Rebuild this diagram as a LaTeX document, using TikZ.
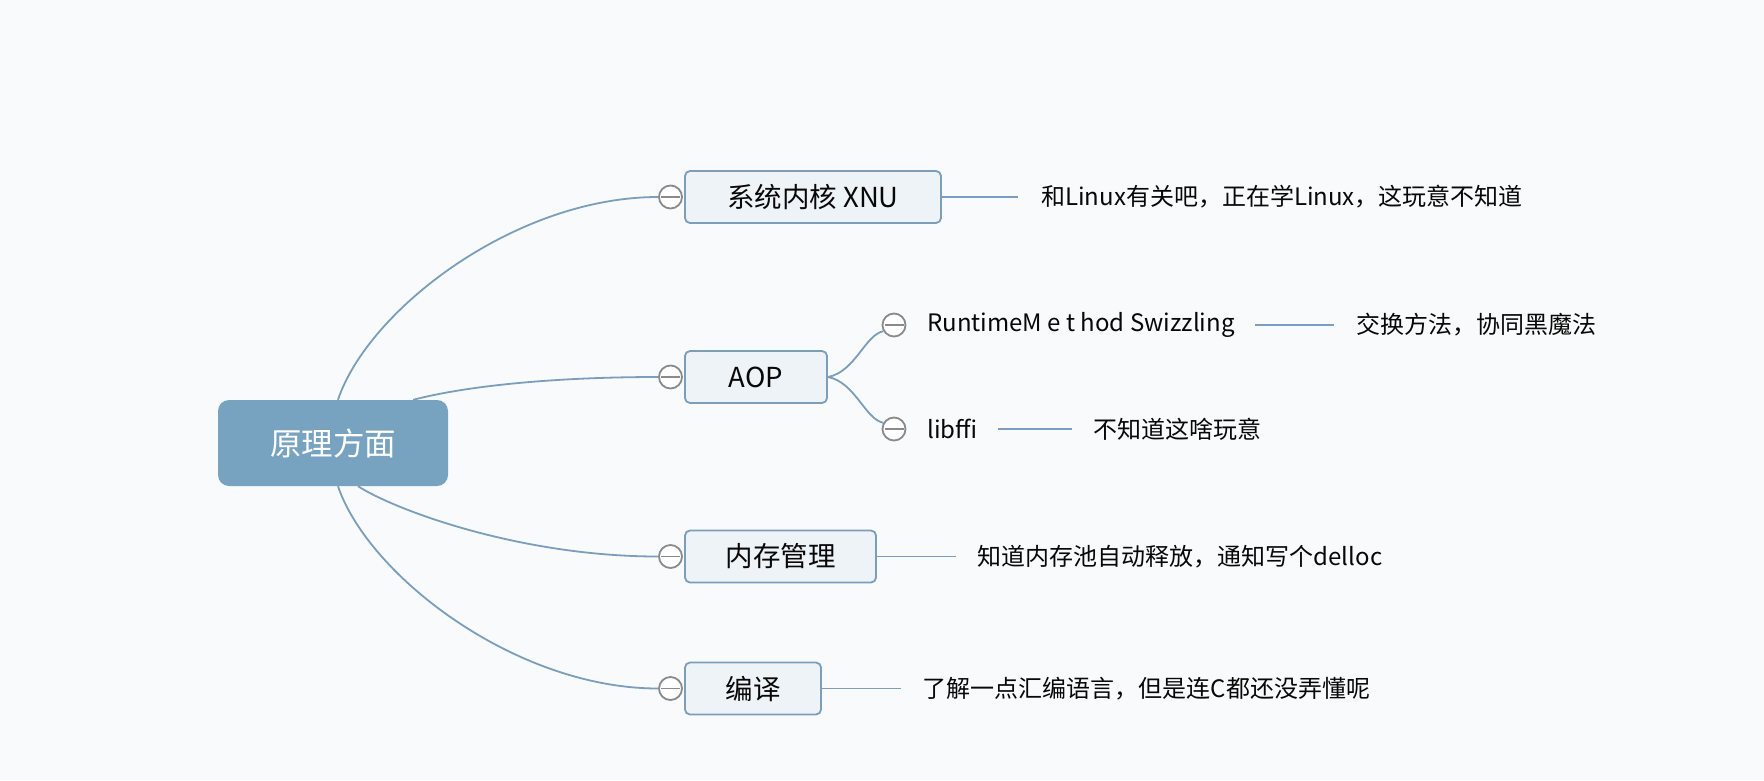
\documentclass[tikz,border=0pt]{standalone}
\usepackage{fontspec}
\setmainfont{Noto Sans CJK SC}
\definecolor{lineC}{HTML}{7A9EBC}
\definecolor{boxB}{HTML}{7B9EBB}
\definecolor{boxF}{HTML}{EEF3F8}
\definecolor{rootF}{HTML}{78A3C0}
\definecolor{foldC}{HTML}{8A8A8A}
\definecolor{txt}{HTML}{080808}
\definecolor{bgC}{HTML}{F9FAFB}
\tikzset{
  conn/.style={draw=lineC, line width=1.8pt},
  topicbox/.style={draw=boxB, fill=boxF, line width=1.8pt, rounded corners=5pt,
    minimum height=52pt, inner sep=0pt, text=txt, font=\fontsize{27.5}{31}\selectfont},
  rootbox/.style={fill=rootF, rounded corners=11pt, minimum width=230pt,
    minimum height=86pt, inner sep=0pt, text=white, font=\fontsize{31.5}{35}\selectfont},
  fold/.style={circle, draw=foldC, fill=white, line width=1.8pt, minimum size=23pt,
    inner sep=0pt, path picture={\draw[foldC, line width=1.8pt]
      ([xshift=-9.5pt]path picture bounding box.center) --
      ([xshift=9.5pt]path picture bounding box.center);}},
  note/.style={inner sep=0pt, anchor=west, text=txt, font=\fontsize{24}{28}\selectfont},
  subtopic/.style={inner sep=0pt, anchor=west, text=txt, font=\fontsize{24}{28}\selectfont},
}
\begin{document}
\begin{tikzpicture}[x=1pt,y=-1pt]
\fill[bgC] (0,0) rectangle (1764,780);
\useasboundingbox (0,0) rectangle (1764,780);

% root
\node[rootbox] (root) at (333,443) {原理方面};

% topics
\node[topicbox, minimum width=256pt] (t1) at (813,197) {系统内核 XNU};
\node[topicbox, minimum width=142pt] (t2) at (756,377) {AOP};
\node[topicbox, minimum width=191pt] (t3) at (780.5,556.5) {内存管理};
\node[topicbox, minimum width=136pt] (t4) at (753,688.5) {编译};

% fold circles
\node[fold] (f1) at (670.5,197) {};
\node[fold] (f2) at (670.5,377) {};
\node[fold] (f3) at (670.5,556.5) {};
\node[fold] (f4) at (670.5,688.5) {};
\node[fold] (fa) at (894,325) {};
\node[fold] (fb) at (894,429) {};

% subtopics
\node[subtopic] (sa) at (927,325) {RuntimeM e t hod Swizzling};
\node[subtopic] (sb) at (927,429) {libffi};

% notes
\node[note] (n1) at (1041,197) {和Linux有关吧，正在学Linux，这玩意不知道};
\node[note] (n2) at (1356,325) {交换方法，协同黑魔法};
\node[note] (n3) at (1093.5,429) {不知道这啥玩意};
\node[note] (n4) at (977.6,556.5) {知道内存池自动释放，通知写个delloc};
\node[note] (n5) at (922.5,688.5) {了解一点汇编语言，但是连C都还没弄懂呢};

% root connectors
\draw[conn] ([xshift=5pt]root.north) .. controls (368,310) and (515,197) .. (f1.west);
\draw[conn] ([xshift=-35pt]root.north east) .. controls (470,385) and (560,377) .. (f2.west);
\draw[conn] ([xshift=25pt]root.south) .. controls (395,510) and (520,556.5) .. (f3.west);
\draw[conn] ([xshift=5pt]root.south) .. controls (368,575) and (515,688.5) .. (f4.west);

% AOP children
\draw[conn] (t2.east) .. controls (855,372) and (865,335) .. (fa.210);
\draw[conn] (t2.east) .. controls (855,382) and (865,419) .. (fb.150);

% note connectors
\draw[conn] (t1.east) -- ([xshift=-23pt]n1.west);
\draw[conn] ([xshift=20pt]sa.east) -- ([xshift=-22pt]n2.west);
\draw[conn] ([xshift=20pt]sb.east) -- ([xshift=-21.5pt]n3.west);
\draw[conn] (t3.east) -- ([xshift=-22pt]n4.west);
\draw[conn] (t4.east) -- ([xshift=-22pt]n5.west);
\end{tikzpicture}
\end{document}
